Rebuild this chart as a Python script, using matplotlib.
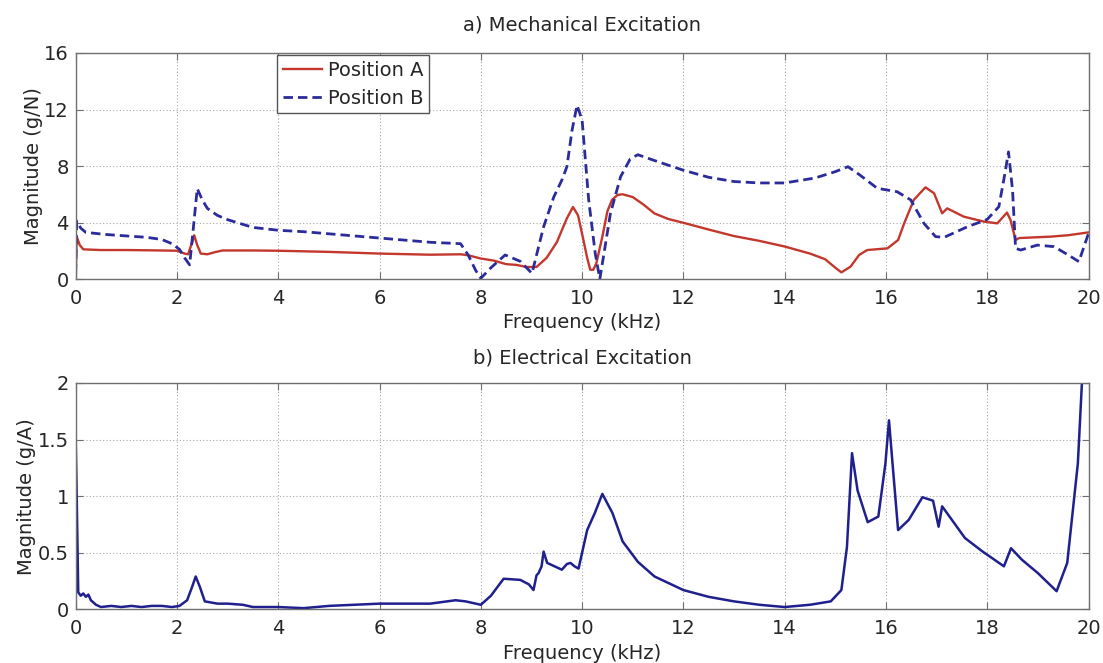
import matplotlib
matplotlib.use("Agg")
import matplotlib.pyplot as plt
from matplotlib.ticker import FixedLocator, FixedFormatter

plt.rcParams["font.family"] = ["DejaVu Sans"]
plt.rcParams["font.size"] = 14

# ---- a) Mechanical excitation: accelerance magnitude (g/N) ----
freq_a = [0.00, 0.02, 0.08, 0.15, 0.5, 1.0, 1.5, 2.0, 2.15, 2.22, 2.3, 2.34, 2.4,
          2.47, 2.6, 2.75, 2.9, 3.5, 4.0, 5.0, 6.0, 7.0, 7.6, 7.75, 8.0, 8.26, 8.5,
          8.7, 8.9, 9.1, 9.3, 9.5, 9.7, 9.82, 9.92, 10.0, 10.1, 10.16, 10.22, 10.28,
          10.4, 10.5, 10.59, 10.7, 10.8, 11.0, 11.2, 11.43, 11.7, 12.0, 12.5, 13.0,
          13.5, 14.0, 14.5, 14.8, 15.0, 15.12, 15.3, 15.47, 15.63, 16.03, 16.24,
          16.36, 16.55, 16.78, 16.95, 17.11, 17.21, 17.54, 17.94, 18.2, 18.39,
          18.46, 18.56, 18.63, 19.26, 19.6, 20.0]
mag_a = [0.3, 3.0, 2.4, 2.1, 2.05, 2.05, 2.03, 2.0, 1.8, 1.75, 2.6, 3.1, 2.4,
         1.8, 1.75, 1.9, 2.02, 2.02, 2.0, 1.92, 1.8, 1.72, 1.75, 1.68, 1.45, 1.3,
         1.05, 1.0, 0.85, 0.85, 1.5, 2.6, 4.3, 5.1, 4.5, 3.2, 1.5, 0.66, 0.65, 1.1,
         3.0, 4.8, 5.6, 5.95, 6.0, 5.8, 5.3, 4.64, 4.25, 3.98, 3.5, 3.04,
         2.7, 2.3, 1.8, 1.4, 0.8, 0.47, 0.87, 1.7, 2.05, 2.17, 2.76,
         3.94, 5.6, 6.49, 6.07, 4.65, 5.0, 4.41, 4.06, 3.94, 4.7,
         4.18, 2.76, 2.9, 3.0, 3.1, 3.3]

freq_b = [0.00, 0.02, 0.1, 0.2, 0.6, 1.0, 1.4, 1.7, 1.9, 2.05, 2.15, 2.25, 2.32,
          2.4, 2.5, 2.6, 2.8, 3.0, 3.5, 4.0, 4.5, 5.0, 5.5, 6.0, 6.5, 7.0, 7.6,
          7.75, 7.9, 8.0, 8.2, 8.48, 8.78, 9.01, 9.24, 9.44, 9.6, 9.7, 9.8, 9.9,
          10.0, 10.13, 10.26, 10.35, 10.56, 10.76, 10.95, 11.1, 11.5, 12.0, 12.5,
          13.0, 13.5, 14.0, 14.6, 15.0, 15.25, 15.47, 15.83, 16.22, 16.49, 16.75,
          16.98, 17.15, 17.61, 18.0, 18.23, 18.35, 18.42, 18.5, 18.56, 18.66,
          18.99, 19.32, 19.6, 19.81, 20.0]
mag_b = [0.4, 4.1, 3.6, 3.3, 3.15, 3.05, 2.95, 2.8, 2.5, 2.1, 1.5, 1.0, 3.5,
         6.4, 5.6, 5.0, 4.5, 4.2, 3.65, 3.45, 3.35, 3.2, 3.05, 2.9, 2.75, 2.6, 2.5,
         1.7, 0.6, 0.05, 0.8, 1.7, 1.25, 0.4, 3.7, 5.8, 7.0, 7.95, 10.5, 12.3,
         11.26, 5.6, 1.8, 0.0, 4.65, 7.24, 8.5, 8.8, 8.3, 7.7, 7.2,
         6.9, 6.8, 6.8, 7.15, 7.6, 7.95, 7.4, 6.42, 6.18, 5.6, 3.94,
         3.0, 2.95, 3.7, 4.22, 5.12, 7.48, 9.0, 6.3, 2.17, 2.05,
         2.4, 2.29, 1.7, 1.23, 3.23]

# ---- b) Electrical excitation: magnitude (g/A) ----
freq_e = [0.0, 0.02, 0.05, 0.1, 0.15, 0.2, 0.25, 0.3, 0.4, 0.5, 0.7, 0.9, 1.1,
          1.3, 1.5, 1.7, 1.9, 2.05, 2.2, 2.3, 2.37, 2.45, 2.55, 2.8, 3.0, 3.3,
          3.5, 4.0, 4.5, 5.0, 5.5, 6.0, 6.5, 7.0, 7.5, 7.7, 8.0, 8.2, 8.45, 8.78,
          8.95, 9.04, 9.1, 9.14, 9.2, 9.24, 9.31, 9.6, 9.7, 9.77, 9.85, 9.93,
          10.1, 10.25, 10.4, 10.6, 10.8, 11.1, 11.43, 12.0, 12.5, 13.0, 13.5,
          14.0, 14.5, 14.91, 15.12, 15.23, 15.33, 15.44, 15.64, 15.85, 15.99,
          16.06, 16.13, 16.24, 16.45, 16.72, 16.93, 17.04, 17.11, 17.56, 17.91,
          18.33, 18.47, 18.68, 19.0, 19.37, 19.58, 19.79, 19.87, 19.92]
mag_e = [1.5, 1.0, 0.15, 0.12, 0.14, 0.11, 0.13, 0.08, 0.04, 0.02, 0.03, 0.02, 0.03,
         0.02, 0.03, 0.03, 0.02, 0.03, 0.08, 0.2, 0.29, 0.2, 0.07, 0.05, 0.05, 0.04,
         0.02, 0.02, 0.01, 0.03, 0.04, 0.05, 0.05, 0.05, 0.08, 0.07, 0.04, 0.12, 0.27, 0.26,
         0.22, 0.17, 0.3, 0.32, 0.38, 0.51, 0.41, 0.35, 0.4, 0.41, 0.38, 0.36,
         0.7, 0.85, 1.02, 0.85, 0.6, 0.42, 0.29, 0.17, 0.11, 0.07, 0.04,
         0.02, 0.04, 0.07, 0.17, 0.55, 1.38, 1.05, 0.77, 0.82, 1.29,
         1.67, 1.29, 0.7, 0.79, 0.99, 0.96, 0.73, 0.91, 0.63, 0.51,
         0.38, 0.54, 0.44, 0.32, 0.16, 0.41, 1.29, 2.0, 2.3]

x_ticks = [0, 2, 4, 6, 8, 10, 12, 14, 16, 18, 20]
y_ticks_a = [0, 4, 8, 12, 16]
y_ticks_e = [0, 0.5, 1, 1.5, 2]
y_ticklabels_e = ["0", "0.5", "1", "1.5", "2"]

W, H = 1103, 663
fig = plt.figure(figsize=(W / 100, H / 100), dpi=100)

left = 75.7 / W
width = (1088.5 - 75.7) / W
ax1 = fig.add_axes([left, 1 - 279 / H, width, 226 / H])
ax2 = fig.add_axes([left, 1 - 609.3 / H, width, 226.3 / H])

text_color = "#262626"
spine_color = "#707070"


def style(ax):
    ax.set_xlim(0, 20)
    ax.xaxis.set_major_locator(FixedLocator(x_ticks))
    ax.grid(True, linestyle=(0, (1, 2)), color="#a8a8a8", linewidth=0.8)
    ax.set_axisbelow(True)
    for s in ax.spines.values():
        s.set_color(spine_color)
        s.set_linewidth(1.0)
    ax.tick_params(direction="in", top=True, right=True, length=5,
                   color=spine_color, labelcolor=text_color, labelsize=14)
    ax.tick_params(axis="x", pad=7)
    ax.tick_params(axis="y", pad=5)
    ax.set_xlabel("Frequency (kHz)", color=text_color, fontsize=14, labelpad=4)


style(ax1)
ax1.plot(freq_a, mag_a, color="#c4372c", lw=1.7, label="Position A")
ax1.plot(freq_b, mag_b, color="#2b2b9c", lw=2.0, dashes=(3.4, 1.8),
         label="Position B")
ax1.set_ylim(0, 16)
ax1.yaxis.set_major_locator(FixedLocator(y_ticks_a))
ax1.set_ylabel("Magnitude (g/N)", color=text_color, fontsize=14, labelpad=1)
ax1.set_title("a) Mechanical Excitation", color=text_color, fontsize=14, pad=16)
leg = ax1.legend(loc="upper left", bbox_to_anchor=(0.199, 0.991),
                 borderaxespad=0, fancybox=False, framealpha=1,
                 edgecolor="#555555", handlelength=2.0, handletextpad=0.3,
                 borderpad=0.3, labelspacing=0.45, fontsize=14)
leg.get_frame().set_linewidth(1.0)
for t in leg.get_texts():
    t.set_color(text_color)

style(ax2)
ax2.plot(freq_e, mag_e, color="#1f1f8e", lw=1.8)
ax2.set_ylim(0, 2)
ax2.yaxis.set_major_locator(FixedLocator(y_ticks_e))
ax2.yaxis.set_major_formatter(FixedFormatter(y_ticklabels_e))
ax2.set_ylabel("Magnitude (g/A)", color=text_color, fontsize=14, labelpad=1)
ax2.set_title("b) Electrical Excitation", color=text_color, fontsize=14, pad=14)

fig.savefig("out.png", dpi=100, facecolor="white")
